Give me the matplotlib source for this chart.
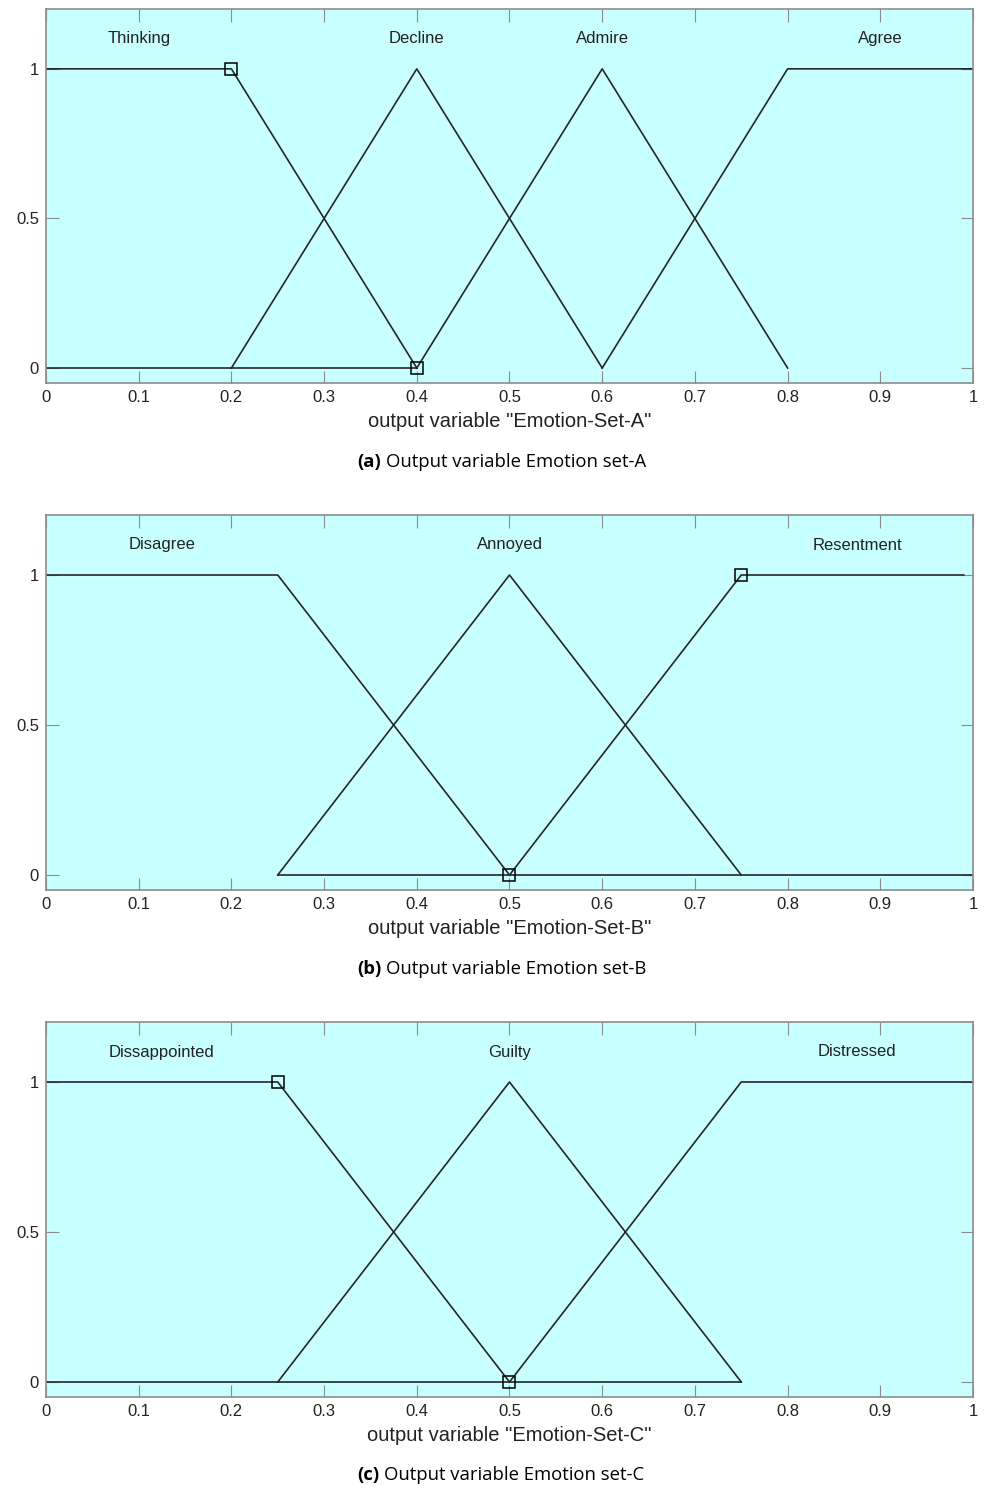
import matplotlib
matplotlib.use('Agg')
import matplotlib.pyplot as plt

plt.rcParams['font.family'] = ['Liberation Sans', 'DejaVu Sans']

# membership functions per panel: (x points, y points)
set_a_names = ['Thinking', 'Decline', 'Admire', 'Agree']
set_a_label_x = [0.1, 0.4, 0.6, 0.9]
set_a_x = [[0, 0.2, 0.4], [0.2, 0.4, 0.6], [0.4, 0.6, 0.8], [0.6, 0.8, 1.0]]
set_a_y = [[1, 1, 0], [0, 1, 0], [0, 1, 0], [0, 1, 1]]
set_a_base = [0, 0.4]
set_a_marks_x = [0.2, 0.4]
set_a_marks_y = [1, 0]

set_b_names = ['Disagree', 'Annoyed', 'Resentment']
set_b_label_x = [0.125, 0.5, 0.875]
set_b_x = [[0, 0.25, 0.5], [0.25, 0.5, 0.75], [0.5, 0.75, 0.99]]
set_b_y = [[1, 1, 0], [0, 1, 0], [0, 1, 1]]
set_b_base = [0.25, 1.0]
set_b_marks_x = [0.75, 0.5]
set_b_marks_y = [1, 0]

set_c_names = ['Dissappointed', 'Guilty', 'Distressed']
set_c_label_x = [0.125, 0.5, 0.875]
set_c_x = [[0, 0.25, 0.5], [0.25, 0.5, 0.75], [0.5, 0.75, 1.0]]
set_c_y = [[1, 1, 0], [0, 1, 0], [0, 1, 1]]
set_c_base = [0, 0.75]
set_c_marks_x = [0.25, 0.5]
set_c_marks_y = [1, 0]

x_ticks = [0, 0.1, 0.2, 0.3, 0.4, 0.5, 0.6, 0.7, 0.8, 0.9, 1]
x_tick_labels = ['0', '0.1', '0.2', '0.3', '0.4', '0.5', '0.6', '0.7', '0.8', '0.9', '1']
y_ticks = [0, 0.5, 1]
y_tick_labels = ['0', '0.5', '1']

panels = [
    ('Emotion-Set-A', '(a)', 'Output variable Emotion set-A', set_a_names, set_a_label_x,
     set_a_x, set_a_y, set_a_base, set_a_marks_x, set_a_marks_y),
    ('Emotion-Set-B', '(b)', 'Output variable Emotion set-B', set_b_names, set_b_label_x,
     set_b_x, set_b_y, set_b_base, set_b_marks_x, set_b_marks_y),
    ('Emotion-Set-C', '(c)', 'Output variable Emotion set-C', set_c_names, set_c_label_x,
     set_c_x, set_c_y, set_c_base, set_c_marks_x, set_c_marks_y),
]

W, H = 987, 1487
fig = plt.figure(figsize=(W / 100, H / 100), dpi=100)

tops = [9, 515, 1022]
bottoms = [383, 890, 1397]
cap_y = [462, 969, 1475]
cap_x = [357, 357, 357]
line_col = '#262626'
grey = '#8c8c8c'

for i, p in enumerate(panels):
    varname, tag, caption, names, lab_x, xs, ys, base, mx, my = p
    ax = fig.add_axes([46 / W, 1 - bottoms[i] / H, 927 / W, (bottoms[i] - tops[i]) / H])
    ax.set_facecolor('#c8ffff')
    for xx, yy in zip(xs, ys):
        ax.plot(xx, yy, color=line_col, lw=1.2)
    ax.plot(base, [0, 0], color=line_col, lw=1.2)
    ax.plot(mx, my, ls='none', marker='s', ms=9, mfc='none', mec='black', mew=1.1)
    for name, lx in zip(names, lab_x):
        ax.text(lx, 1.1, name, ha='center', va='center', fontsize=12, color='#222222')
    ax.set_xlim(0, 1)
    ax.set_ylim(-0.05, 1.2)
    ax.set_xticks(x_ticks)
    ax.set_xticklabels(x_tick_labels)
    ax.set_yticks(y_ticks)
    ax.set_yticklabels(y_tick_labels)
    ax.tick_params(direction='in', length=9, color=grey, labelsize=12, labelcolor='#222222',
                   top=True, right=True, pad=5)
    for s in ax.spines.values():
        s.set_color(grey)
        s.set_linewidth(1.2)
    ax.set_xlabel('output variable "%s"' % varname, fontsize=14.5, color='#222222', labelpad=5)

    t1 = fig.text(cap_x[i] / W, 1 - cap_y[i] / H, tag, ha='left', va='center',
                  fontsize=13.3, fontweight='bold', family='Open Sans')
    fig.canvas.draw()
    bb = t1.get_window_extent()
    fig.text((bb.x1 + 5) / W, 1 - cap_y[i] / H, caption, ha='left', va='center',
             fontsize=13.3, family='Open Sans')

fig.savefig('out.png', dpi=100)
